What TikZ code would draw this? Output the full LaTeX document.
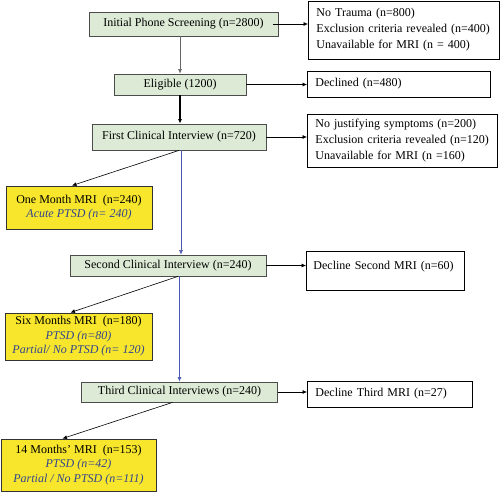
\documentclass[tikz,border=0pt]{standalone}
\usepackage{fontspec}
\setmainfont{Liberation Serif}
\usetikzlibrary{arrows.meta}

\definecolor{stagegreen}{HTML}{DDEBD6}
\definecolor{mriyellow}{HTML}{F7E62C}
\definecolor{subblue}{HTML}{34468C}
\definecolor{flowblue}{HTML}{4A58B0}

\tikzset{
    stage/.style={draw=black!70, line width=0.8pt, fill=stagegreen, inner sep=0pt},
    outbox/.style={draw, line width=0.9pt, fill=white, align=left, inner xsep=8pt, inner ysep=3pt, anchor=west},
    mribox/.style={draw=black!80, line width=0.9pt, fill=mriyellow, align=center, inner sep=0pt, font=\fontsize{12}{14.5}\selectfont},
    link/.style={-{Latex[length=4.5pt,width=4pt]}, line width=0.6pt},
    sub/.style={font=\itshape, text=subblue}
}

\begin{document}
\begin{tikzpicture}[x=1pt, y=-1pt, font=\fontsize{12}{16}\selectfont]
    \useasboundingbox (0,0) rectangle (500,492);

    % Main stages
    \node[stage, minimum width=189pt, minimum height=24pt] (init) at (183.5, 24) {Initial Phone Screening (n=2800)};
    \node[stage, minimum width=132pt, minimum height=21pt] (elig) at (180, 84.5) {Eligible (1200)};
    \node[stage, minimum width=174pt, minimum height=26pt] (first) at (179, 137) {First Clinical Interview (n=720)};
    \node[stage, minimum width=196pt, minimum height=21pt] (second) at (168, 265.5) {Second Clinical Interview (n=240)};
    \node[stage, minimum width=196pt, minimum height=20pt] (third) at (179.5, 392) {Third Clinical Interviews (n=240)};

    % Exclusions
    \node[outbox, text width=175pt, minimum height=58pt] (excla) at (308, 30) {No Trauma (n=800)\\Exclusion criteria revealed (n=400)\\Unavailable for MRI (n = 400)};
    \node[outbox, text width=167pt, minimum height=26pt] (decla) at (307, 84) {Declined (n=480)};
    \node[outbox, text width=174pt, minimum height=53pt] (exclb) at (307, 141) {No justifying symptoms (n=200)\\Exclusion criteria revealed (n=120)\\Unavailable for MRI (n =160)};
    \node[outbox, text width=144pt, text depth=18pt, text height=15pt, inner xsep=7pt] (declb) at (306, 270.5) {Decline Second MRI (n=60)};
    \node[outbox, text width=149pt, minimum height=26pt] (declc) at (307, 394) {Decline Third MRI (n=27)};

    % MRI sessions
    \node[mribox, minimum width=146pt, minimum height=43pt] (onemonth) at (79, 207.5) {One Month MRI\ \ (n=240)\\{\itshape\color{subblue}Acute PTSD (n= 240)}};
    \node[mribox, minimum width=147pt, minimum height=47pt] (sixmonth) at (78.5, 336.5) {Six Months MRI\ \ (n=180)\\{\itshape\color{subblue}PTSD (n=80)}\\{\itshape\color{subblue}Partial/ No PTSD (n= 120)}};
    \node[mribox, minimum width=155pt, minimum height=52pt] (fourteen) at (78.5, 465) {14 Months' MRI\ \ (n=153)\\{\itshape\color{subblue}PTSD (n=42)}\\{\itshape\color{subblue}Partial / No PTSD (n=111)}};

    % Arrows down
    \draw[link, black!60] (elig.north |- init.south) -- (elig.north);
    \draw[link, line width=1.3pt] (elig.south) -- (elig.south |- first.north);
    \draw[link, flowblue] ([xshift=2pt]first.south) -- ([xshift=2pt]first.south |- second.north);
    \draw[link, flowblue] (third.north |- second.south) -- (third.north);

    % Arrows right
    \draw[link] ([xshift=-5pt]init.east) -- (init.east -| excla.west);
    \draw[link] (elig.east) -- (elig.east -| decla.west);
    \draw[link] (first.east) -- (first.east -| exclb.west);
    \draw[link] (second.east) -- (second.east -| declb.west);
    \draw[link] (third.east) -- (third.east -| declc.west);

    % Arrows to MRI
    \draw[link] (first.south) -- ([xshift=-7pt]onemonth.north);
    \draw[link] ([xshift=10pt]second.south) -- ([xshift=-8pt]sixmonth.north);
    \draw[link] ([xshift=-7pt]third.south) -- ([xshift=-16pt]fourteen.north);
\end{tikzpicture}
\end{document}
